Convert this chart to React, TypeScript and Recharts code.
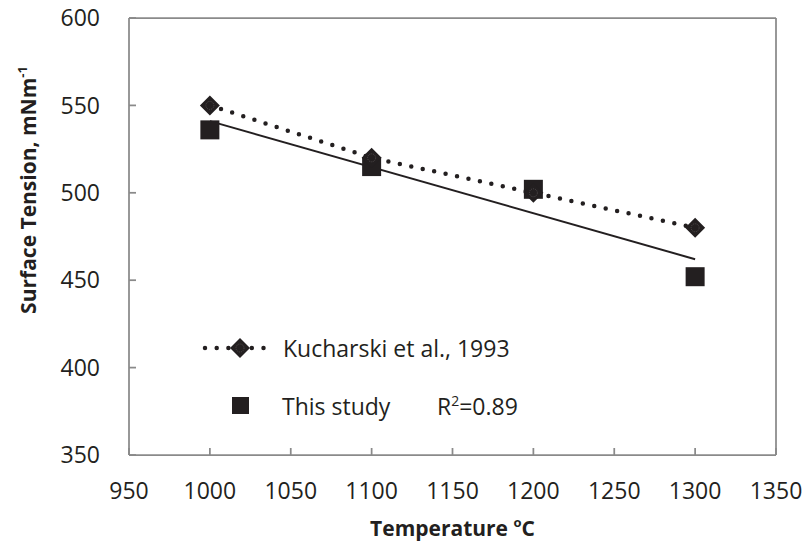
import { ScatterChart, Scatter, XAxis, YAxis, Label } from 'recharts';

// values
const temperatures = [1000, 1100, 1200, 1300];
const kucharskiTension = [550, 520, 500, 480];
const studyTension = [536, 515, 502, 452];
const trendTemps = [1000, 1300];
const trendTension = [541, 462];
const xTicks = [950, 1000, 1050, 1100, 1150, 1200, 1250, 1300, 1350];
const yTicks = [350, 400, 450, 500, 550, 600];

const kucharskiData = temperatures.map((t, i) => ({ x: t, y: kucharskiTension[i] }));
const studyData = temperatures.map((t, i) => ({ x: t, y: studyTension[i] }));
const trendData = trendTemps.map((t, i) => ({ x: t, y: trendTension[i] }));

const INK = '#231f20';
const AXIS = '#8a8a8a';
const FONT = '"Open Sans", sans-serif';

const Diamond = (props: any) => {
  const { cx, cy } = props;
  if (cx == null || cy == null) return <g />;
  const r = 10;
  return (
    <g>
      <polygon points={`${cx},${cy - r} ${cx + r},${cy} ${cx},${cy + r} ${cx - r},${cy}`} fill={INK} />
      <circle cx={cx} cy={cy} r={4} fill="none" stroke="#5a5657" strokeWidth={0.8} strokeDasharray="1 1" />
    </g>
  );
};

const Square = (props: any) => {
  const { cx, cy } = props;
  if (cx == null || cy == null) return <g />;
  const s = 19;
  return <rect x={cx - s / 2} y={cy - s / 2} width={s} height={s} fill={INK} />;
};

const NoDot = () => <g />;

const tickStyle = { fill: INK, fontSize: 23, fontFamily: FONT };

const XTitle = (props: any) => {
  const vb = props.viewBox || { x: 129, y: 455, width: 647 };
  return (
    <text x={vb.x + vb.width / 2} y={vb.y + 81} textAnchor="middle" fill={INK}
      fontFamily={FONT} fontSize={21} fontWeight="bold">
      Temperature <tspan fontSize={13} dy={-9}>o</tspan><tspan dy={9}>C</tspan>
    </text>
  );
};

const YTitle = () => (
  <text x={36} y={190} transform="rotate(-90 36 190)" textAnchor="middle" fill={INK}
    fontFamily={FONT} fontSize={21} fontWeight="bold">
    Surface Tension, mNm<tspan fontSize={13} dy={-9}>-1</tspan>
  </text>
);

export default function App() {
  return (
    <div style={{ position: 'absolute', left: 0, top: 0, width: 803, height: 550, background: '#fff' }}>
      <ScatterChart width={803} height={550} margin={{ top: 17, right: 26, bottom: 0, left: 0 }}>
        <XAxis
          dataKey="x"
          type="number"
          domain={[950, 1350]}
          ticks={xTicks}
          height={95}
          stroke={AXIS}
          strokeWidth={1.75}
          tickSize={-7}
          tickMargin={35}
          tick={tickStyle}
          interval={0}
        >
          <Label content={XTitle} />
        </XAxis>
        <XAxis
          xAxisId="top"
          orientation="top"
          dataKey="x"
          type="number"
          domain={[950, 1350]}
          ticks={xTicks}
          height={1}
          stroke={AXIS}
          strokeWidth={1.75}
          tickSize={-7}
          tick={false}
          interval={0}
        />
        <YAxis
          dataKey="y"
          type="number"
          domain={[350, 600]}
          ticks={yTicks}
          width={129}
          stroke={AXIS}
          strokeWidth={1.75}
          tickSize={-7}
          tickMargin={36}
          tick={tickStyle}
          interval={0}
        >
          <Label content={YTitle} />
        </YAxis>
        <YAxis
          yAxisId="right"
          orientation="right"
          dataKey="y"
          type="number"
          domain={[350, 600]}
          ticks={yTicks}
          width={1}
          stroke={AXIS}
          strokeWidth={1.75}
          tickSize={-7}
          tick={false}
          interval={0}
        />
        <Scatter
          name="trend"
          data={trendData}
          fill={INK}
          shape={NoDot}
          line={{ stroke: INK, strokeWidth: 2 }}
          isAnimationActive={false}
        />
        <Scatter
          name="This study"
          data={studyData}
          fill={INK}
          shape={Square}
          isAnimationActive={false}
        />
        <Scatter
          name="Kucharski et al., 1993"
          data={kucharskiData}
          fill={INK}
          shape={Diamond}
          line={{ stroke: INK, strokeWidth: 4.5, strokeDasharray: '0 11.7', strokeLinecap: 'round' }}
          isAnimationActive={false}
        />
      </ScatterChart>

      {/* legend sits inside the plot, lower left */}
      <svg width={803} height={550} style={{ position: 'absolute', left: 0, top: 0, pointerEvents: 'none' }}>
        <line x1={205} y1={348} x2={272} y2={348} stroke={INK} strokeWidth={4.5}
          strokeDasharray="0 11.7" strokeLinecap="round" />
        <Diamond cx={240} cy={348} />
        <text x={283} y={357} fill={INK} fontFamily={FONT} fontSize={23}>Kucharski et al., 1993</text>
        <rect x={232} y={397} width={17} height={17} fill={INK} />
        <text x={282} y={415} fill={INK} fontFamily={FONT} fontSize={23}>This study</text>
        <text x={437} y={415} fill={INK} fontFamily={FONT} fontSize={23}>
          R<tspan fontSize={14} dy={-9}>2</tspan><tspan dy={9}>=0.89</tspan>
        </text>
      </svg>
    </div>
  );
}
